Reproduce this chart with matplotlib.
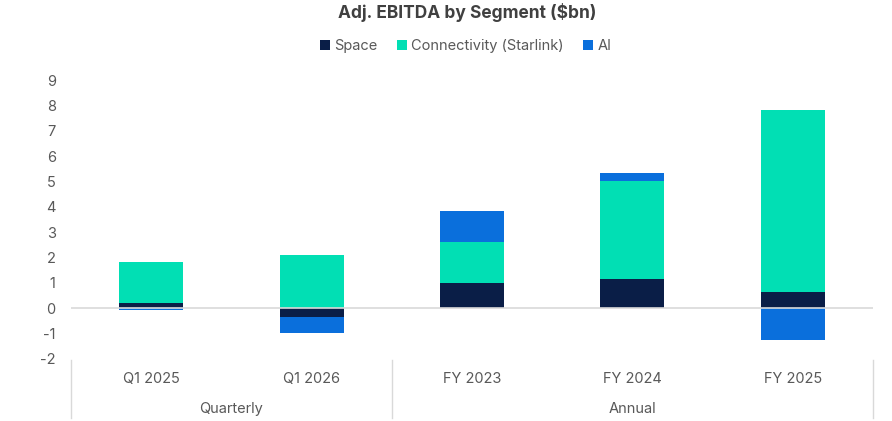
import matplotlib
matplotlib.use("Agg")
import matplotlib.pyplot as plt
from matplotlib.lines import Line2D
import numpy as np

plt.rcParams['font.family'] = ['Inter', 'DejaVu Sans']

categories = ["Q1 2025", "Q1 2026", "FY 2023", "FY 2024", "FY 2025"]
groups = ["Quarterly", "Annual"]
group_sizes = [2, 3]
space = [0.20, -0.35, 0.98, 1.14, 0.63]
connectivity = [1.61, 2.09, 1.62, 3.86, 7.20]
ai = [-0.08, -0.63, 1.22, 0.35, -1.26]
series_names = ["Space", "Connectivity (Starlink)", "AI"]
colors = ["#0A1E47", "#01DFB4", "#0A6FDC"]
yticks = list(range(-2, 10))

fig = plt.figure(figsize=(8.92, 4.21), dpi=100)
ax = fig.add_axes([71/892, 1-359/421, (873-71)/892, (359-80)/421])

x = np.arange(len(categories))
pos_bottom = np.zeros(len(categories))
neg_bottom = np.zeros(len(categories))
handles = []
for name, vals, col in zip(series_names, [space, connectivity, ai], colors):
    vals = np.array(vals, dtype=float)
    bottoms = np.where(vals >= 0, pos_bottom, neg_bottom)
    b = ax.bar(x, vals, bottom=bottoms, width=0.4, color=col, label=name, zorder=2)
    handles.append(b)
    pos_bottom = pos_bottom + np.where(vals >= 0, vals, 0)
    neg_bottom = neg_bottom + np.where(vals < 0, vals, 0)

ax.axhline(0, color="#D9D9D9", lw=1.2, zorder=3)
ax.set_xlim(-0.5, len(categories) - 0.5)
ax.set_ylim(-2, 9)
ax.set_yticks(yticks)
ax.set_yticklabels([str(t) for t in yticks])
ax.tick_params(axis='y', length=0, pad=11, labelsize=10.5, labelcolor="#595959")
ax.set_xticks([])
for s in ax.spines.values():
    s.set_visible(False)

# category labels
for xi, c in zip(x, categories):
    ax.text(xi, -0.07, c, transform=ax.get_xaxis_transform(), ha='center', va='center',
            fontsize=10.5, color="#595959")
# group labels and separators
start = 0
bounds = [-0.5]
for g, n in zip(groups, group_sizes):
    center = start + (n - 1) / 2
    ax.text(center, -0.18, g, transform=ax.get_xaxis_transform(), ha='center', va='center',
            fontsize=10.5, color="#595959")
    start += n
    bounds.append(start - 0.5)
for bx in bounds:
    ax.add_line(Line2D([bx, bx], [-0.005, -0.21], transform=ax.get_xaxis_transform(),
                       color="#D9D9D9", lw=1, clip_on=False))

fig.text(0.524, 1-12/421, "Adj. EBITDA by Segment ($bn)", ha='center', va='center',
         fontsize=12.5, fontweight='bold', color="#404040")
fig.legend(handles=handles, labels=series_names, loc='center', bbox_to_anchor=(0.522, 1-46/421),
           ncol=3, frameon=False, fontsize=10.5, handlelength=0.7, handleheight=0.7,
           handletextpad=0.3, columnspacing=1.3, labelcolor="#595959")

fig.savefig("out.png", dpi=100)
